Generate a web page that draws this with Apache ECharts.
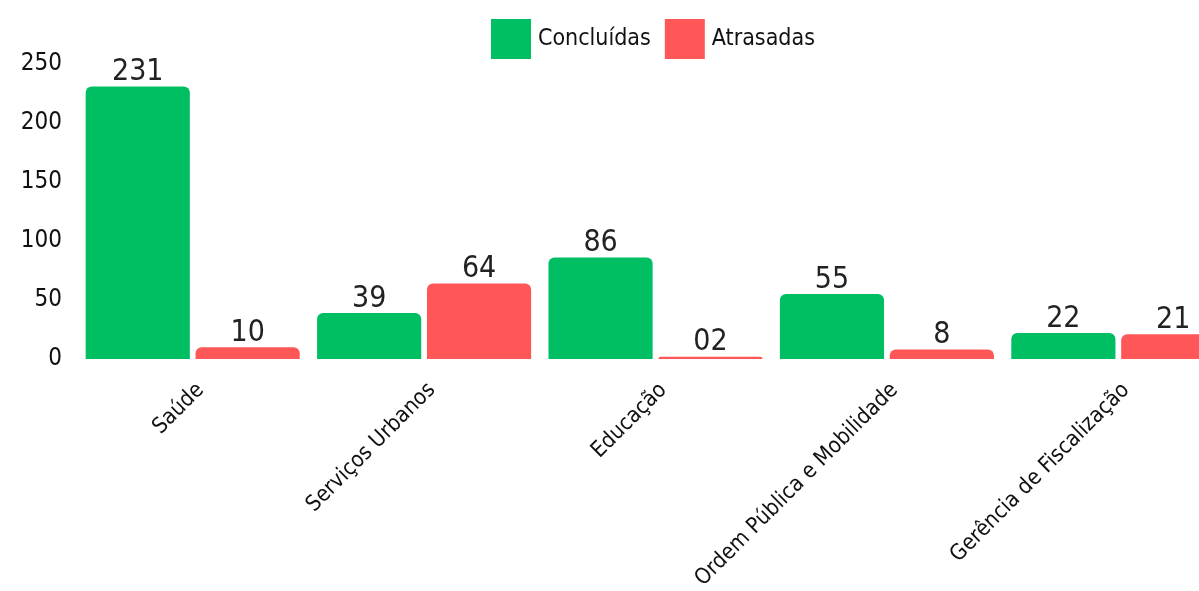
<!DOCTYPE html>
<html>
<head>
<meta charset="utf-8">
<title>Concluídas x Atrasadas</title>
<script src="https://cdn.jsdelivr.net/npm/echarts@6/dist/echarts.min.js"></script>
<style>
body{
margin:0;
background:#fff;
overflow:hidden;
}
#chart{
width:1236px;
height:591px;
}
</style>
</head>
<body>
<div id="chart"></div>
<script>

const categories=["Saúde","Serviços Urbanos","Educação","Ordem Pública e Mobilidade","Gerência de Fiscalização"]
const concluidas=[231,39,86,55,22]
const atrasadas=[10,64,2,8,21]
const atrasadasLabels=["10","64","02","8","21"]

const font="'DejaVu Sans Condensed',sans-serif"

const chart=echarts.init(document.getElementById("chart"))

chart.setOption({
animation:false,
textStyle:{fontFamily:font},
legend:{
top:14,
left:486,
itemWidth:40,
itemHeight:40,
itemGap:14,
icon:"rect",
textStyle:{fontSize:23,color:"#111",fontFamily:font,padding:[0,0,0,2]}
},
grid:{left:77,right:2,top:64,bottom:232,outerBoundsMode:"none",containLabel:false},
xAxis:{
type:"category",
data:categories,
axisLine:{show:false},
axisTick:{show:false},
axisLabel:{rotate:45,fontSize:22,color:"#111",margin:20,interval:0,verticalAlign:"top",fontFamily:font}
},
yAxis:{
type:"value",
min:0,
max:250,
interval:50,
splitLine:{show:false},
axisLabel:{fontSize:24,color:"#111",margin:15,fontFamily:font}
},
series:[
{
name:"Concluídas",
type:"bar",
data:concluidas,
barGap:"5.5%",
barCategoryGap:"7.5%",
itemStyle:{color:"#00bf63",borderRadius:[6,6,0,0]},
label:{show:true,position:"top",fontSize:30,color:"#222",distance:-1,fontFamily:font}
},
{
name:"Atrasadas",
type:"bar",
data:atrasadas,
itemStyle:{color:"#ff5757",borderRadius:[6,6,0,0]},
label:{show:true,position:"top",fontSize:30,color:"#222",distance:-1,fontFamily:font,
formatter:p=>atrasadasLabels[p.dataIndex]}
}
]
})

</script>
</body>
</html>
